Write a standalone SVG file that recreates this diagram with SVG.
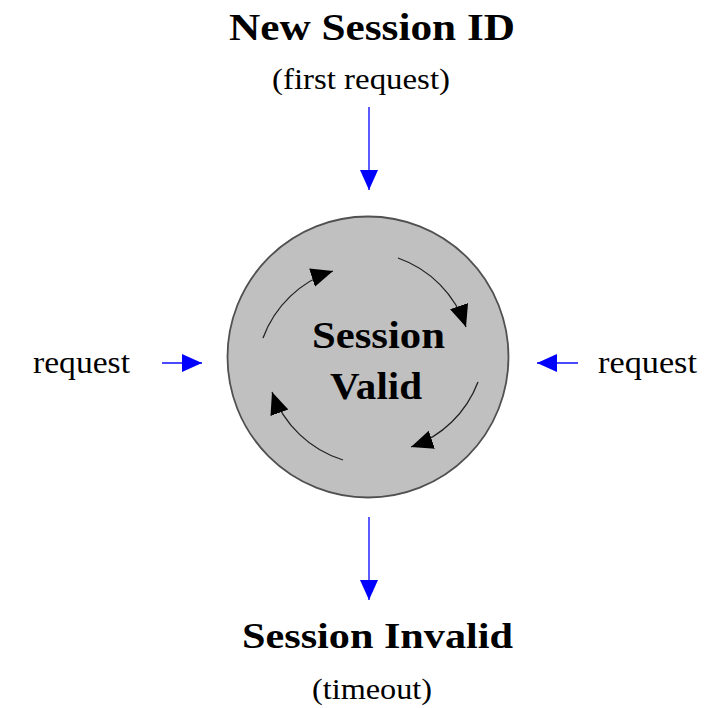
<svg xmlns="http://www.w3.org/2000/svg" width="719" height="708" viewBox="0 0 719 708">
<style>
.t{font-family:"Liberation Serif","Times New Roman",serif;fill:#000}
.b{font-weight:bold}
.cyc{fill:none;stroke:#222;stroke-width:1.3}
.blue{fill:none;stroke:#4a4aff;stroke-width:1.8}
</style>
<defs>
<marker id="bh" markerUnits="userSpaceOnUse" markerWidth="24" markerHeight="20" refX="22" refY="9.5" orient="auto" viewBox="0 0 24 20">
<path d="M0,0 L22,9.5 L0,19 z" fill="#000"/>
</marker>
<marker id="blh" markerUnits="userSpaceOnUse" markerWidth="22" markerHeight="20" refX="20" refY="9" orient="auto" viewBox="0 0 22 20">
<path d="M0,0 L20,9 L0,18 z" fill="#0000ff"/>
</marker>
</defs>
<rect width="719" height="708" fill="#fff"/>
<g id="node-valid">
<circle cx="368" cy="357" r="140.5" fill="#c0c0c0" stroke="#505050" stroke-width="1.8"/>
<text class="t b" x="312" y="348" font-size="37" textLength="133" lengthAdjust="spacingAndGlyphs">Session</text>
<text class="t b" x="330" y="399" font-size="37" textLength="92" lengthAdjust="spacingAndGlyphs">Valid</text>
</g>
<g id="node-new">
<text class="t b" x="229" y="40" font-size="37" textLength="286" lengthAdjust="spacingAndGlyphs">New Session ID</text>
<text class="t" x="272" y="89" font-size="29" textLength="178" lengthAdjust="spacingAndGlyphs">(first request)</text>
</g>
<g id="node-invalid">
<text class="t b" x="242" y="648" font-size="36" textLength="271" lengthAdjust="spacingAndGlyphs">Session Invalid</text>
<text class="t" x="312" y="699" font-size="29" textLength="120" lengthAdjust="spacingAndGlyphs">(timeout)</text>
</g>
<g id="node-request-left">
<text class="t" x="33" y="373" font-size="31" textLength="97" lengthAdjust="spacingAndGlyphs">request</text>
</g>
<g id="node-request-right">
<text class="t" x="598" y="373" font-size="31" textLength="99" lengthAdjust="spacingAndGlyphs">request</text>
</g>
<g id="connectors">
<path class="cyc" d="M263,338 A110,110 0 0 1 333,271" marker-end="url(#bh)"/>
<path class="cyc" d="M398,258 A110,110 0 0 1 466,327" marker-end="url(#bh)"/>
<path class="cyc" d="M478,382 A110,110 0 0 1 411,447" marker-end="url(#bh)"/>
<path class="cyc" d="M343,460 A110,110 0 0 1 272,392" marker-end="url(#bh)"/>
<path class="blue" d="M369,107 L369,190" marker-end="url(#blh)"/>
<path class="blue" d="M369,517 L369,600" marker-end="url(#blh)"/>
<path class="blue" d="M162,363 L202,363" marker-end="url(#blh)"/>
<path class="blue" d="M578,363 L537,363" marker-end="url(#blh)"/>
</g>
</svg>
